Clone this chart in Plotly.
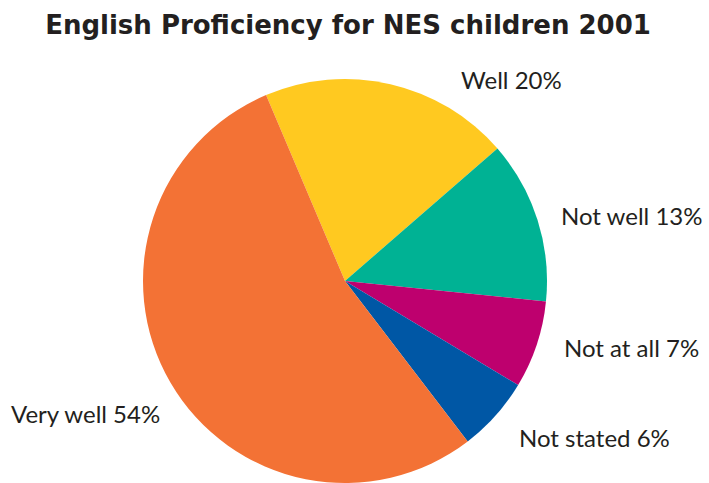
import plotly.graph_objects as go

# Share of NES children by self-reported English proficiency, 2001
categories = ["Well", "Not well", "Not at all", "Not stated", "Very well"]
shares = [20, 13, 7, 6, 54]
colors = ["#FFC920", "#00B294", "#BE006E", "#0057A5", "#F37235"]

W, H = 709, 483

# Label placement (pixel positions of each label's left edge / vertical middle)
label_pos = {
    "Well": (459, 79),
    "Not well": (559, 215),
    "Not at all": (562, 347),
    "Not stated": (517, 437),
    "Very well": (9, 413),
}

fig = go.Figure(
    go.Pie(
        labels=categories,
        values=shares,
        sort=False,
        direction="clockwise",
        rotation=337,
        marker=dict(colors=colors, line=dict(width=0)),
        textinfo="none",
        hoverinfo="label+percent",
        showlegend=False,
        domain=dict(x=[345 / W - 0.3, 345 / W + 0.3], y=[0, 1 - 79 / H]),
    )
)

annotations = []
for cat, val in zip(categories, shares):
    px, py = label_pos[cat]
    annotations.append(
        dict(
            text=f"{cat} {val}%",
            x=px / W,
            y=1 - py / H,
            xref="paper",
            yref="paper",
            xanchor="left",
            yanchor="middle",
            showarrow=False,
            font=dict(family="Lato", size=24, color="#231F20"),
        )
    )

fig.update_layout(
    width=W,
    height=H,
    margin=dict(l=0, r=0, t=0, b=0),
    paper_bgcolor="white",
    plot_bgcolor="white",
    title=dict(
        text="<b>English Proficiency for NES children 2001</b>",
        x=348 / W,
        xanchor="center",
        y=1 - 25 / H,
        yanchor="middle",
        font=dict(family="DejaVu Sans", size=26, color="#231F20"),
    ),
    annotations=annotations,
)

fig.write_html("out.html")
